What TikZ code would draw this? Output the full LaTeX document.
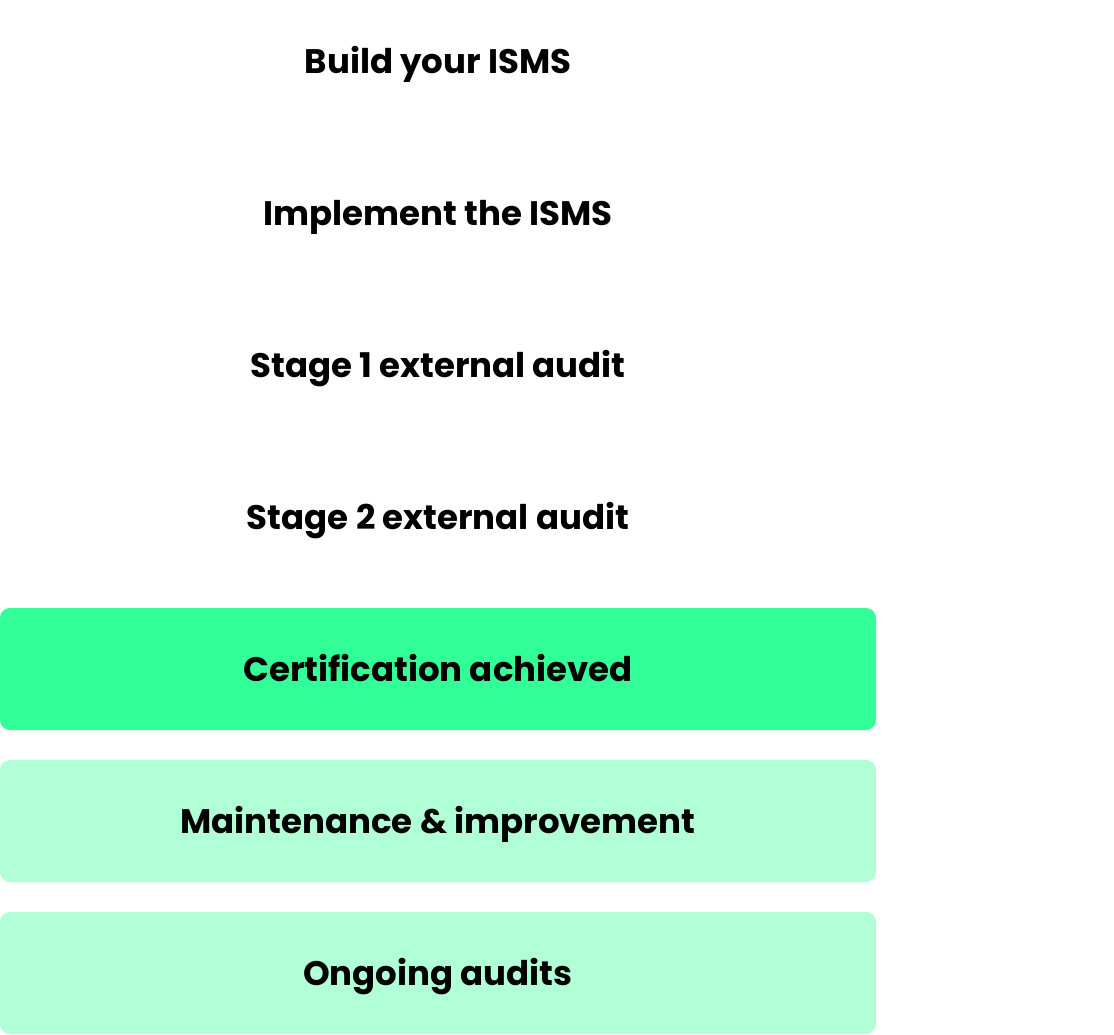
\documentclass[tikz,border=0pt]{standalone}
\usepackage{fontspec}
\setmainfont{Poppins}
\definecolor{certgreen}{RGB}{51,255,153}
\definecolor{lightgreen}{RGB}{176,255,214}
\begin{document}
\begin{tikzpicture}[x=1pt,y=-1pt,
  stepbox/.style={rounded corners=10pt, minimum width=876pt, minimum height=122pt,
    inner sep=0pt, text height=24pt, text depth=0pt,
    font=\fontsize{34}{40}\selectfont\bfseries, text=black},
  plainbox/.style={stepbox, fill=white},
  certbox/.style={stepbox, fill=certgreen},
  lightbox/.style={stepbox, fill=lightgreen}]
\useasboundingbox[fill=white] (0,0) rectangle (1114,1034);
\node[plainbox] (s1) at (438,61) {Build your ISMS};
\node[plainbox] (s2) at (438,213) {Implement the ISMS};
\node[plainbox] (s3) at (438,365) {Stage 1 external audit};
\node[plainbox] (s4) at (438,517) {Stage 2 external audit};
\node[certbox] (s5) at (438,669) {Certification achieved};
\node[lightbox] (s6) at (438,821) {Maintenance \& improvement};
\node[lightbox] (s7) at (438,973) {Ongoing audits};
\end{tikzpicture}
\end{document}
